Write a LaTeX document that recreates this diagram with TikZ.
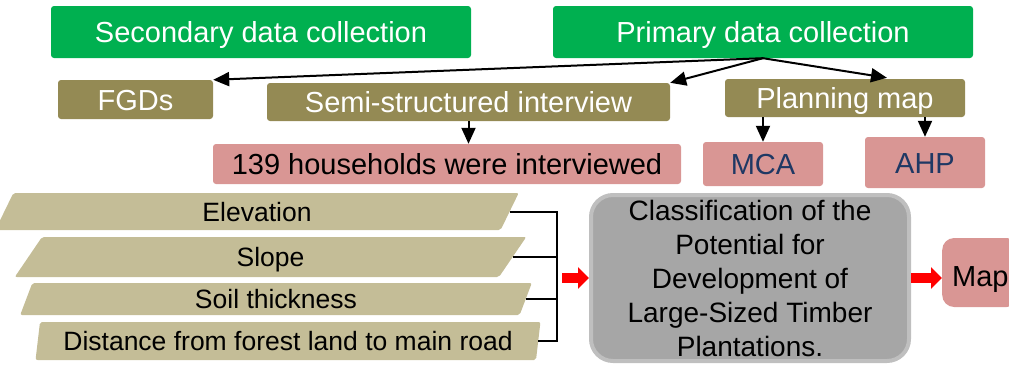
\documentclass[tikz,border=0pt]{standalone}
\usepackage{fontspec}
\setmainfont{Liberation Sans}
\usetikzlibrary{arrows.meta,calc,shapes.geometric}
\definecolor{datagreen}{HTML}{00B050}
\definecolor{olive}{HTML}{948A54}
\definecolor{rose}{HTML}{D99694}
\definecolor{khaki}{HTML}{C4BD97}
\definecolor{slate}{HTML}{A6A6A6}
\definecolor{rim}{HTML}{BFBFBF}
\definecolor{navy}{HTML}{1F3864}
\tikzset{>={Triangle[length=16pt,width=14pt]},
  every node/.style={font=\fontsize{29}{34}\selectfont,inner sep=0pt},
  capline/.style={text height=#1,text depth=0pt},
  source/.style={capline=21pt,fill=datagreen,text=white,rounded corners=3pt,minimum height=52pt},
  method/.style={capline=21pt,fill=olive,text=white,rounded corners=3pt},
  result/.style={capline=21pt,fill=rose,rounded corners=3pt},
  factor/.style={trapezium,trapezium left angle=78,trapezium right angle=102,
    trapezium stretches=true,fill=khaki,rounded corners=2pt,
    font=\fontsize{26.5}{30}\selectfont,capline=19pt},
  link/.style={->,line width=2pt},
  brace/.style={line width=2pt},
  blockarrow/.style={draw=red,line width=10pt,-{Triangle[length=11pt,width=21pt]}}}
\begin{document}
\begin{tikzpicture}[x=1pt,y=-1pt]
\useasboundingbox(0,0)rectangle(1009,364);
\node[source,minimum width=420pt](sec)at(261,32){Secondary data collection};
\node[source,minimum width=420pt](prim)at(763,32){Primary data collection};
\node[method,minimum width=155pt,minimum height=39pt](fgd)at(135.5,99.5){FGDs};
\node[method,minimum width=403pt,minimum height=38pt](semi)at(468.5,102){Semi-structured interview};
\node[method,minimum width=240pt,minimum height=38pt](plan)at(845,98){Planning map};
\node[result,minimum width=468pt,minimum height=40pt](hh)at(447,164){139 households were interviewed};
\node[result,text=navy,minimum width=120pt,minimum height=44pt](mca)at(763,164){MCA};
\node[result,text=navy,minimum width=120pt,minimum height=51pt](ahp)at(925,162.5){AHP};
\draw[link](prim.south)--(fgd.north east);
\draw[link](prim.south)--(semi.north east);
\draw[link](prim.south)--($(plan.north)+(42,-1)$);
\draw[link](semi.south)--(semi.south|-hh.north);
\draw[link](mca.north|-plan.south)--(mca.north);
\draw[link](ahp.north|-plan.south)--(ahp.north);
\node[factor,minimum width=524pt,minimum height=37pt](elev)at(257,211.5){Elevation};
\node[factor,minimum width=515pt,minimum height=40pt](slope)at(270.5,257){Slope};
\node[factor,minimum width=512pt,minimum height=32pt](soil)at(276,299){Soil thickness};
\node[factor,minimum width=506pt,minimum height=38pt](dist)at(288,341){Distance from forest land to main road};
\coordinate(brk)at(557,278);
\draw[brace](elev.east)--(elev.east-|brk)--(dist.east-|brk)--(dist.east);
\draw[brace](slope.east)--(slope.east-|brk);\draw[brace](soil.east)--(soil.east-|brk);
\node[fill=slate,draw=rim,line width=4pt,rounded corners=22pt,minimum width=318pt,minimum height=166pt,
  align=center,font=\fontsize{28}{34}\selectfont](cls)at(750,278)
  {Classification of the\\Potential for\\Development of\\Large-Sized Timber\\Plantations.};
\node[result,capline=28pt,rounded corners=12pt,minimum height=69pt,inner xsep=10pt,anchor=west](map)at(942,272.5){Map};
\draw[blockarrow]($(brk)+(5,0)$)--(cls.west);
\draw[blockarrow](cls.east)--(cls.east-|map.west);
\end{tikzpicture}
\end{document}
